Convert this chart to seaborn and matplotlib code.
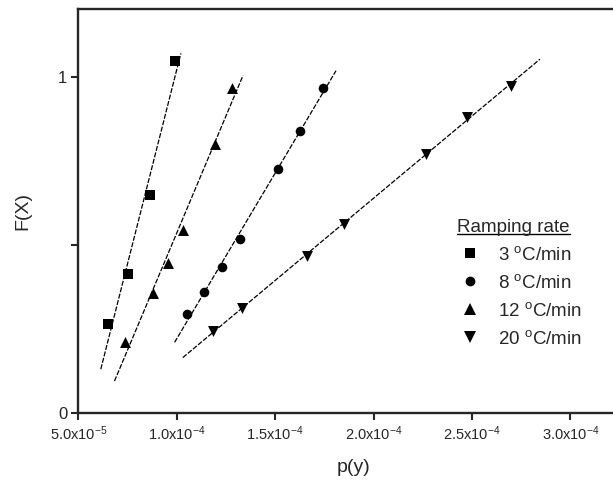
import numpy as np
import pandas as pd
import matplotlib
matplotlib.use("Agg")
import matplotlib.pyplot as plt
import seaborn as sns
from matplotlib.lines import Line2D
from matplotlib.transforms import IdentityTransform

# ---------------- data ----------------
series_names = ["3 °C/min", "8 °C/min", "12 °C/min", "20 °C/min"]
legend_labels = [r"3 $^{\mathrm{o}}$C/min", r"8 $^{\mathrm{o}}$C/min",
                 r"12 $^{\mathrm{o}}$C/min", r"20 $^{\mathrm{o}}$C/min"]

x_3 = [6.524e-5, 7.510e-5, 8.643e-5, 9.914e-5]
y_3 = [0.264, 0.414, 0.649, 1.049]

x_8 = [10.508e-5, 11.402e-5, 12.317e-5, 13.216e-5, 15.163e-5, 16.265e-5, 17.449e-5]
y_8 = [0.294, 0.361, 0.436, 0.517, 0.726, 0.841, 0.969]

x_12 = [7.373e-5, 8.811e-5, 9.543e-5, 10.335e-5, 11.946e-5, 12.825e-5]
y_12 = [0.212, 0.357, 0.448, 0.545, 0.800, 0.969]

x_20 = [11.860e-5, 13.303e-5, 16.646e-5, 18.516e-5, 22.668e-5, 24.736e-5, 26.972e-5]
y_20 = [0.245, 0.312, 0.469, 0.563, 0.772, 0.883, 0.974]

# extent of each fitted line (x from, x to)
fit_range_3 = [6.143e-5, 10.213e-5]
fit_range_8 = [9.893e-5, 18.095e-5]
fit_range_12 = [6.839e-5, 13.369e-5]
fit_range_20 = [10.310e-5, 28.46e-5]

x_ticks = [5e-5, 10e-5, 15e-5, 20e-5, 25e-5, 30e-5]
x_tick_labels = [r"5.0x10$^{-5}$", r"1.0x10$^{-4}$", r"1.5x10$^{-4}$",
                 r"2.0x10$^{-4}$", r"2.5x10$^{-4}$", r"3.0x10$^{-4}$"]
y_ticks = [0, 0.5, 1]
y_tick_labels = ["0", "", "1"]

# ---------------- style ----------------
sns.set_style("ticks")
plt.rcParams["font.family"] = ["Liberation Sans", "DejaVu Sans"]
plt.rcParams["mathtext.fontset"] = "custom"
plt.rcParams["mathtext.rm"] = "Liberation Sans"
plt.rcParams["mathtext.it"] = "Liberation Sans:italic"
plt.rcParams["mathtext.bf"] = "Liberation Sans:bold"

W, H = 613, 486
fig = plt.figure(figsize=(W / 100, H / 100), dpi=100)
xmin, xmax = 5e-5, 3.3e-4
px_per_unit = 98.4 / 5e-5
ax_left = 78.3
ax_bottom = 413
ax_top = 9
ax_w = (xmax - xmin) * px_per_unit
ax = fig.add_axes([ax_left / W, (H - ax_bottom) / H, ax_w / W, (ax_bottom - ax_top) / H])

series = [
    (x_3, y_3, fit_range_3, "s", 44),
    (x_8, y_8, fit_range_8, "o", 48),
    (x_12, y_12, fit_range_12, "^", 62),
    (x_20, y_20, fit_range_20, "v", 62),
]

for name, (xs, ys, rng, mk, size) in zip(series_names, series):
    df = pd.DataFrame({"x": xs, "y": ys})
    slope, icpt = np.polyfit(df["x"], df["y"], 1)
    fx = np.array(rng)
    fdf = pd.DataFrame({"x": fx, "y": slope * fx + icpt})
    sns.lineplot(data=fdf, x="x", y="y", ax=ax, color="black", lw=0.9,
                 linestyle=(0, (4, 1.3)), legend=False)
    sns.scatterplot(data=df, x="x", y="y", ax=ax, marker=mk, s=size,
                    color="black", edgecolor="black", linewidth=0, legend=False,
                    zorder=3)

ax.set_xlim(xmin, xmax)
ax.set_ylim(0, 1.2035)
ax.set_xticks(x_ticks)
ax.set_xticklabels(x_tick_labels, fontsize=10.5)
ax.set_yticks(y_ticks)
ax.set_yticklabels(y_tick_labels, fontsize=12)
ax.tick_params(direction="out", length=5, width=1.5, pad=3)
for sp in ax.spines.values():
    sp.set_linewidth(1.7)
ax.spines["right"].set_visible(False)

ax.set_xlabel("p(y)", fontsize=14, labelpad=12)
ax.set_ylabel("F(X)", fontsize=14, labelpad=19)

handles = [Line2D([], [], marker=m, linestyle="none", color="black",
                  markersize=ms, markeredgewidth=0)
           for m, ms in zip(["s", "o", "^", "v"], [6.8, 7.0, 8.0, 8.0])]
leg = fig.legend(handles, legend_labels, title="Ramping rate",
                 loc="upper left", bbox_to_anchor=(457 / W, 1 - 219 / H),
                 frameon=False, fontsize=13.5, title_fontsize=13.5,
                 handlelength=1.4, handletextpad=0.8, labelspacing=0.53,
                 borderpad=0, borderaxespad=0, alignment="left")

fig.canvas.draw()
bb = leg.get_title().get_window_extent()
uy = bb.y0 + 1.5
fig.add_artist(Line2D([bb.x0, bb.x1], [uy, uy], transform=IdentityTransform(),
                      color="black", lw=1.0))

fig.savefig("out.png", dpi=100)
